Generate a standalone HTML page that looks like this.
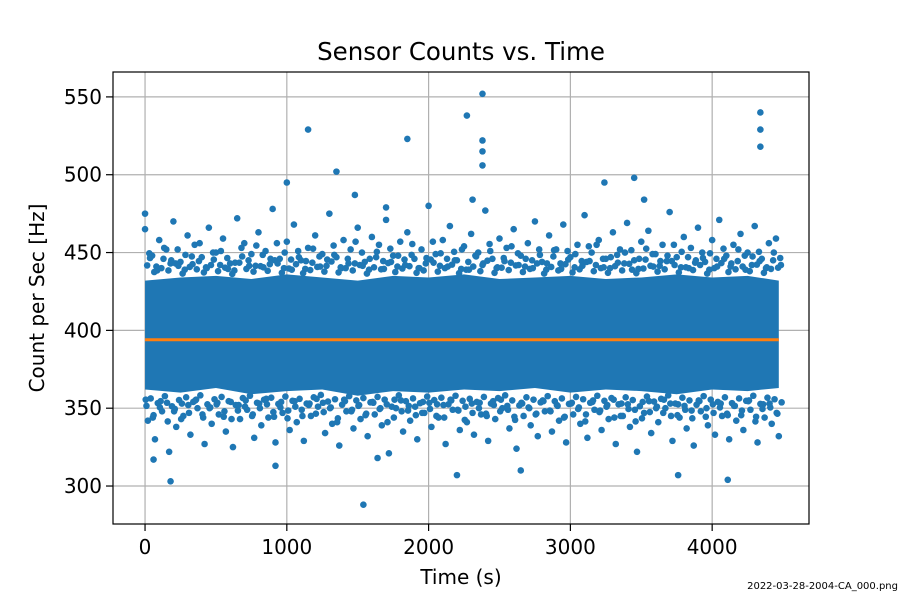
<!DOCTYPE html>
<html><head><meta charset="utf-8"><style>
html,body{margin:0;padding:0;background:#fff;}
svg text{font-family:"DejaVu Sans","Liberation Sans",sans-serif;fill:#000;}
</style></head><body>
<svg id="chart" width="900" height="600" viewBox="0 0 900 600" xmlns="http://www.w3.org/2000/svg">
<rect width="900" height="600" fill="#fff"/>
<g id="grid"></g>
<g id="band"></g>
<g id="pts"></g>
<g id="mean"></g>
<rect x="113" y="72" width="696" height="452" fill="none" stroke="#000" stroke-width="1.2"/>
<g id="ticks"></g>
<text x="461" y="60" font-size="24.5" text-anchor="middle">Sensor Counts vs. Time</text>
<text x="461" y="584" font-size="20" text-anchor="middle">Time (s)</text>
<text transform="translate(44,298) rotate(-90)" font-size="20" text-anchor="middle">Count per Sec [Hz]</text>
<text x="898" y="589" font-size="10" text-anchor="end">2022-03-28-2004-CA_000.png</text>
</svg>
<script>
const xTicks=[0,1000,2000,3000,4000];
const yTicks=[300,350,400,450,500,550];
const meanValue=394;
const meanStart=0, meanEnd=4470;
const bandTimes=[0,250,500,750,1000,1250,1500,1750,2000,2250,2500,2750,3000,3250,3500,3750,4000,4250,4470];
const bandLo=[362,360,363,359,361,362,358,361,360,362,361,363,360,362,361,359,362,361,363];
const bandHi=[432,434,435,433,436,434,432,435,434,436,433,434,435,433,434,436,434,435,432];
const edgeTimes=[0,50,100,150,200,250,300,350,400,450,500,550,600,650,700,750,800,850,900,950,1000,1050,1100,1150,1200,1250,1300,1350,1400,1450,1500,1550,1600,1650,1700,1750,1800,1850,1900,1950,2000,2050,2100,2150,2200,2250,2300,2350,2400,2450,2500,2550,2600,2650,2700,2750,2800,2850,2900,2950,3000,3050,3100,3150,3200,3250,3300,3350,3400,3450,3500,3550,3600,3650,3700,3750,3800,3850,3900,3950,4000,4050,4100,4150,4200,4250,4300,4350,4400,4450];
const highValues=[465,448,458,452,470,444,461,455,447,466,
450,459,443,472,456,449,463,451,478,446,
457,468,445,453,461,449,475,447,458,452,
466,444,460,455,471,448,457,463,446,452,
480,449,458,467,445,454,462,450,477,446,
459,453,465,448,456,470,444,461,452,468,
447,455,474,450,458,446,463,452,469,445,
457,464,449,455,476,447,460,453,466,444,
458,471,448,455,462,450,467,446,456,459];
const lowValues=[342,330,348,322,338,345,333,350,327,340,
346,335,325,343,349,331,339,344,328,347,
336,341,329,345,351,334,340,326,348,337,
343,332,346,339,321,350,335,342,330,347,
338,344,327,349,336,341,333,346,329,343,
350,337,324,345,339,332,348,335,342,328,
346,340,331,349,336,343,327,345,338,322,
347,334,341,350,329,344,337,326,348,339,
333,345,330,342,336,349,328,344,340,332];
const outlierTimes=[0,180,1150,1350,1540,1850,2270,2380,2380,2380,2380,4340,4340,4340,4110,3450,1000,3240,1480,2200,3760,920,60,2650,1640,2310,1700,3520];
const outlierValues=[475,303,529,502,288,523,538,552,522,515,506,540,529,518,304,498,495,495,487,307,307,313,317,310,318,484,479,484];

const NS="http://www.w3.org/2000/svg";
const X0=113,X1=809,Y0=72,Y1=524;
const xMin=-226,xMax=4683,yMin=275.6,yMax=566;
function sx(v){return X0+(v-xMin)/(xMax-xMin)*(X1-X0);}
function sy(v){return Y1-(v-yMin)/(yMax-yMin)*(Y1-Y0);}
function mk(tag,parent,attrs){const e=document.createElementNS(NS,tag);for(const k in attrs)e.setAttribute(k,attrs[k]);parent.appendChild(e);return e;}
const grid=document.getElementById('grid'),ticks=document.getElementById('ticks');
xTicks.forEach(t=>{
 const g=mk('line',grid,{x1:sx(t),x2:sx(t),y1:Y0,y2:Y1,stroke:'#b0b0b0','stroke-width':1.2});
 
 
 const tk=mk('line',ticks,{x1:sx(t),x2:sx(t),y1:Y1,y2:Y1+7,stroke:'#000','stroke-width':1.2});
 
 
 const tx=mk('text',ticks,{x:sx(t),y:Y1+30,'font-size':20,'text-anchor':'middle'});
 tx.textContent=t;
 
 
});
yTicks.forEach(t=>{
 const g=mk('line',grid,{x1:X0,x2:X1,y1:sy(t),y2:sy(t),stroke:'#b0b0b0','stroke-width':1.2});
 
 
 const tk=mk('line',ticks,{x1:X0-7,x2:X0,y1:sy(t),y2:sy(t),stroke:'#000','stroke-width':1.2});
 
 
 const tx=mk('text',ticks,{x:X0-11,y:sy(t)+7,'font-size':20,'text-anchor':'end'});
 tx.textContent=t;
 
 
});
const band=document.getElementById('band');
let d='';
bandTimes.forEach((t,i)=>{d+=(i?'L':'M')+sx(t)+' '+sy(bandHi[i]);});
for(let i=bandTimes.length-1;i>=0;i--)d+='L'+sx(bandTimes[i])+' '+sy(bandLo[i]);
const bp=mk('path',band,{d:d+'Z',fill:'#1f77b4'});


const pts=document.getElementById('pts');
function dot(t,v){
 const c=mk('circle',pts,{cx:sx(t),cy:sy(v),r:3.3,fill:'#1f77b4'});
 
 
}
edgeTimes.forEach((t,i)=>{dot(t,highValues[i]);dot(t+20,lowValues[i]);});
// texture points between edge values and the dense band
edgeTimes.forEach((t,i)=>{
 dot(t+30,(highValues[i]+434)/2);dot(t+10,(lowValues[i]+361)/2);
 dot(t+15,(highValues[i]+434*3)/4);dot(t+40,(lowValues[i]+361*3)/4);
 dot(t+5,(lowValues[(i+7)%lowValues.length]+361)/2);dot(t+35,(highValues[(i+11)%highValues.length]+434)/2);
});
outlierTimes.forEach((t,i)=>dot(t,outlierValues[i]));
const mean=document.getElementById('mean');
const ml=mk('line',mean,{x1:sx(meanStart),x2:sx(meanEnd),y1:sy(meanValue),y2:sy(meanValue),stroke:'#ff7f0e','stroke-width':3});


</script>
</body></html>
